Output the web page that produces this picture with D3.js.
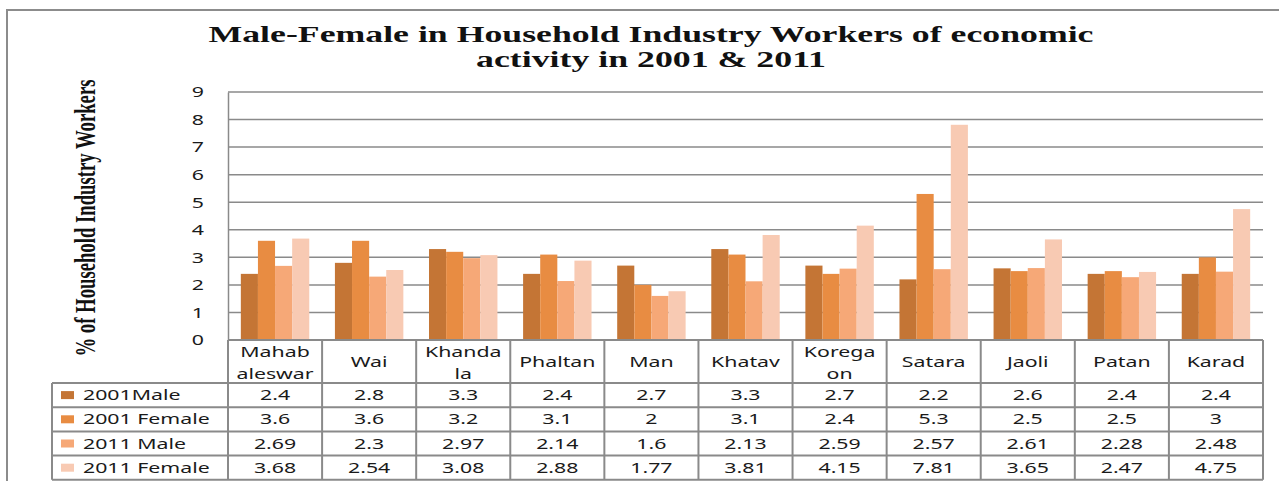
<!DOCTYPE html>
<html>
<head>
<meta charset="utf-8">
<script src="https://cdn.jsdelivr.net/npm/d3@7"></script>
<style>
  body { margin: 0; background: #fff; }
  svg { display: block; }
</style>
</head>
<body>
<svg id="chart"></svg>
<script>
// data
var categories = ["Mahabaleswar", "Wai", "Khandala", "Phaltan", "Man", "Khatav", "Koregaon", "Satara", "Jaoli", "Patan", "Karad"];
var headerLines = [["Mahab", "aleswar"], ["Wai"], ["Khanda", "la"], ["Phaltan"], ["Man"], ["Khatav"], ["Korega", "on"], ["Satara"], ["Jaoli"], ["Patan"], ["Karad"]];
var seriesNames = ["2001Male", "2001 Female", "2011 Male", "2011 Female"];
var male2001   = [2.4, 2.8, 3.3, 2.4, 2.7, 3.3, 2.7, 2.2, 2.6, 2.4, 2.4];
var female2001 = [3.6, 3.6, 3.2, 3.1, 2, 3.1, 2.4, 5.3, 2.5, 2.5, 3];
var male2011   = [2.69, 2.3, 2.97, 2.14, 1.6, 2.13, 2.59, 2.57, 2.61, 2.28, 2.48];
var female2011 = [3.68, 2.54, 3.08, 2.88, 1.77, 3.81, 4.15, 7.81, 3.65, 2.47, 4.75];
var yTicks = [0, 1, 2, 3, 4, 5, 6, 7, 8, 9];
var colors = ["#c47535", "#e88c42", "#f6a877", "#f8cab3"];

var seriesValues = [male2001, female2001, male2011, female2011];

function render_chart(){

var width = 1279, height = 481;
var plotLeft = 228, plotRight = 1263, plotTop = 92, base = 340;
var rowH = 24.2, headH = 43;
var gridColor = "#8a8a8a";
var font = "'Noto Sans', sans-serif";
var textColor = "#1a1a1a";
var k = 1.42; // horizontal stretch of the table text

var svg = d3.select("#chart")
    .attr("width", width)
    .attr("height", height);

// stretch text horizontally like the picture
function stretch(sel, f) {
    sel.each(function(){
        var w = this.getComputedTextLength();
        d3.select(this).attr("textLength", w * f).attr("lengthAdjust", "spacingAndGlyphs");
    });
}

// outer frame
svg.append("rect")
    .attr("x", 7).attr("y", 10)
    .attr("width", 1400).attr("height", 600)
    .attr("fill", "none")
    .attr("stroke", "#8c8c8c")
    .attr("stroke-width", 2);

// title
svg.append("text")
    .attr("x", 651).attr("y", 42)
    .attr("text-anchor", "middle")
    .attr("font-family", "'Liberation Serif', serif")
    .attr("font-weight", "bold")
    .attr("font-size", 23)
    .attr("fill", "#111")
    .text("Male-Female in Household Industry Workers  of economic")
    .attr("textLength", 885).attr("lengthAdjust", "spacingAndGlyphs");
svg.append("text")
    .attr("x", 651).attr("y", 67)
    .attr("text-anchor", "middle")
    .attr("font-family", "'Liberation Serif', serif")
    .attr("font-weight", "bold")
    .attr("font-size", 23)
    .attr("fill", "#111")
    .text("activity in 2001 & 2011")
    .attr("textLength", 350).attr("lengthAdjust", "spacingAndGlyphs");

// y title
svg.append("text")
    .attr("transform", "translate(95,218) rotate(-90)")
    .attr("text-anchor", "middle")
    .attr("font-family", "'Liberation Serif', serif")
    .attr("font-weight", "bold")
    .attr("font-size", 29)
    .attr("fill", "#111")
    .text("% of Household Industry Workers")
    .attr("textLength", 277).attr("lengthAdjust", "spacingAndGlyphs");

var y = d3.scaleLinear().domain([0, 9]).range([base, plotTop]);

var x0 = d3.scaleBand()
    .domain(categories)
    .range([plotLeft, plotRight])
    .padding(0);

var x1 = d3.scaleBand()
    .domain(seriesNames)
    .range([0, x0.bandwidth()])
    .paddingInner(0)
    .paddingOuter(0.75);

// gridlines
svg.append("g")
    .selectAll("line")
    .data(yTicks.filter(function(d){ return d > 0; }))
    .enter()
    .append("line")
    .attr("x1", plotLeft).attr("x2", plotRight)
    .attr("y1", function(d){ return y(d); })
    .attr("y2", function(d){ return y(d); })
    .attr("stroke", gridColor)
    .attr("stroke-width", 1.5);

// y axis
var yAxis = svg.append("g")
    .attr("transform", "translate(" + plotLeft + ",0)")
    .call(d3.axisLeft(y).tickValues(yTicks).tickSize(0).tickPadding(24));
yAxis.select(".domain").attr("stroke", gridColor).attr("stroke-width", 1.5);
yAxis.selectAll("text")
    .attr("font-family", font)
    .attr("font-size", 15)
    .attr("fill", textColor)
    .call(stretch, k);

// bars
var groups = svg.append("g")
    .selectAll("g")
    .data(categories)
    .enter()
    .append("g")
    .attr("transform", function(d){ return "translate(" + x0(d) + ",0)"; });

groups.selectAll("rect")
    .data(function(d, i){ return seriesNames.map(function(s, j){ return {s: s, v: seriesValues[j][i], j: j}; }); })
    .enter()
    .append("rect")
    .attr("x", function(d){ return x1(d.s); })
    .attr("width", x1.bandwidth())
    .attr("y", function(d){ return y(d.v); })
    .attr("height", function(d){ return base - y(d.v); })
    .attr("fill", function(d){ return colors[d.j]; });

// data table
var table = svg.append("g");
var tableLeft = 52;
var rowTop = base + headH;
var bottom = rowTop + rowH * seriesNames.length;

table.append("line")
    .attr("x1", plotLeft).attr("x2", plotRight).attr("y1", base).attr("y2", base)
    .attr("stroke", gridColor).attr("stroke-width", 2);

table.selectAll(".hrow")
    .data(d3.range(seriesNames.length + 1))
    .enter()
    .append("line")
    .attr("x1", tableLeft).attr("x2", plotRight)
    .attr("y1", function(d){ return rowTop + d * rowH; })
    .attr("y2", function(d){ return rowTop + d * rowH; })
    .attr("stroke", gridColor).attr("stroke-width", 2);

table.selectAll(".vcol")
    .data(categories.concat(["end"]))
    .enter()
    .append("line")
    .attr("x1", function(d, i){ return plotLeft + i * x0.step(); })
    .attr("x2", function(d, i){ return plotLeft + i * x0.step(); })
    .attr("y1", base).attr("y2", bottom)
    .attr("stroke", gridColor).attr("stroke-width", 2);

table.append("line")
    .attr("x1", tableLeft).attr("x2", tableLeft).attr("y1", rowTop).attr("y2", bottom)
    .attr("stroke", gridColor).attr("stroke-width", 2);

// header names
headerLines.forEach(function(lines, i){
    var cx = x0(categories[i]) + x0.bandwidth() / 2;
    var startY = lines.length === 1 ? base + 27 : base + 17;
    lines.forEach(function(l, n){
        table.append("text")
            .attr("x", cx).attr("y", startY + n * 22)
            .attr("text-anchor", "middle")
            .attr("font-family", font)
            .attr("font-size", 15)
            .attr("fill", textColor)
            .text(l)
            .call(stretch, k);
    });
});

// rows
seriesNames.forEach(function(s, j){
    var cy = rowTop + j * rowH + rowH / 2 + 5;
    table.append("rect")
        .attr("x", 61).attr("y", cy - 9)
        .attr("width", 13).attr("height", 8)
        .attr("fill", colors[j]);
    table.append("text")
        .attr("x", 83).attr("y", cy)
        .attr("font-family", font)
        .attr("font-size", 15)
        .attr("fill", textColor)
        .text(s)
        .call(stretch, k);
    table.selectAll(".v" + j)
        .data(seriesValues[j])
        .enter()
        .append("text")
        .attr("x", function(d, i){ return x0(categories[i]) + x0.bandwidth() / 2; })
        .attr("y", cy)
        .attr("text-anchor", "middle")
        .attr("font-family", font)
        .attr("font-size", 15)
        .attr("fill", textColor)
        .text(function(d){ return String(d); })
        .call(stretch, k);
});
}

render_chart();
</script>
</body>
</html>
